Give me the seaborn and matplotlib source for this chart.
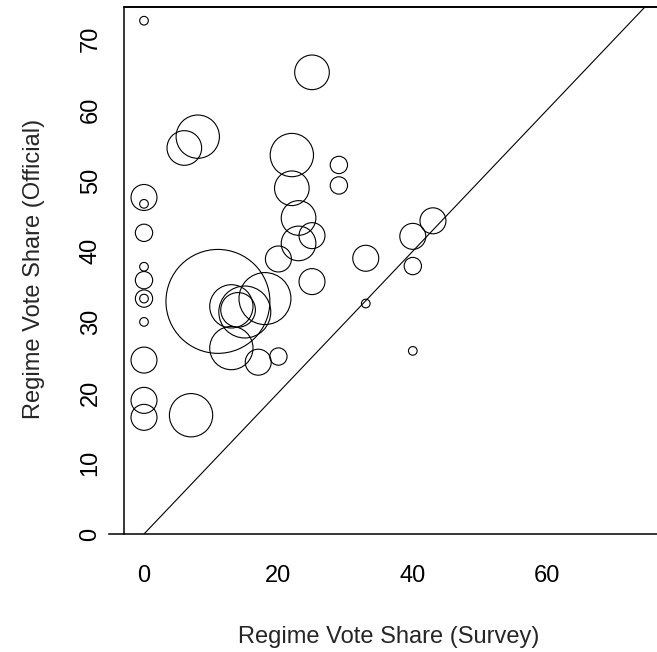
import numpy as np
import pandas as pd
import matplotlib
matplotlib.use("Agg")
import matplotlib.pyplot as plt
import seaborn as sns

# ---- data ----
survey = [0, 25, 8, 6, 22, 29, 29, 22, 0, 0, 0, 23, 25, 23, 20, 33, 0, 0, 0, 0,
          0, 11, 18, 13, 14, 15, 13, 17, 20, 0, 0, 0, 7, 33, 25, 40, 43, 40, 40]
official = [72.6, 65.3, 56.2, 54.6, 53.6, 52.2, 49.3, 48.9, 47.6, 46.7, 42.6, 44.7,
             42.2, 41.1, 38.9, 39.0, 37.8, 35.9, 33.3, 33.3, 30.0, 32.9, 33.3, 32.2,
             31.7, 31.4, 26.3, 24.3, 25.1, 24.6, 18.9, 16.5, 16.8, 32.6, 35.7, 42.1,
             44.3, 37.9, 25.9]
weight = [1, 4, 5, 4, 5, 2, 2, 4, 3, 1, 2, 4, 3, 4, 3, 3, 1, 2, 2, 1,
          1, 12, 6, 5, 4, 6, 5, 3, 2, 3, 3, 3, 5, 1, 3, 3, 3, 2, 1]
xticks = [0, 20, 40, 60]
yticks = [0, 10, 20, 30, 40, 50, 60, 70]
xlabel = "Regime Vote Share (Survey)"
ylabel = "Regime Vote Share (Official)"

df = pd.DataFrame({"survey": survey, "official": official, "weight": weight})

sns.set_style("white")
plt.rcParams["font.family"] = ["Liberation Sans", "DejaVu Sans"]

W, H, DPI = 657, 652, 100
FS = 17
fig = plt.figure(figsize=(W / DPI, H / DPI), dpi=DPI)
L, R, T, B = 109, 657, 7, 534
ax = fig.add_axes([L / W, 1 - B / H, (R - L) / W, (B - T) / H])

x0px, xscale = 144, 6.72
y0px, yscale = 534, 7.07
xlim = ((L - x0px) / xscale, (R - x0px) / xscale)
ylim = (0, (y0px - T) / yscale)
ax.set_xlim(*xlim)
ax.set_ylim(*ylim)

# circle sizes: radius ~4.33 px per weight unit
unit_pt = 2 * 4.33 * 72 / DPI
sizes = {k: (unit_pt * k) ** 2 for k in sorted(set(weight))}
sns.scatterplot(data=df, x="survey", y="official", size="weight", sizes=sizes,
                legend=False, ax=ax, marker="o", facecolor="none",
                edgecolor="black", linewidth=0.8, zorder=3)
for c in ax.collections:
    c.set_facecolor("none")
    c.set_edgecolor("black")

ax.axline((0, 0), slope=1, color="black", lw=0.8)

# frame lines like the reference
yaxis_x = -3.0
for s in ["top", "right"]:
    ax.spines[s].set_visible(False)
ax.spines["left"].set_position(("data", yaxis_x))
ax.spines["left"].set_linewidth(1.1)
ax.spines["bottom"].set_linewidth(1.1)
ax.spines["left"].set_color("black")
ax.spines["bottom"].set_color("black")
ax.axhline(ylim[1], xmin=(yaxis_x - xlim[0]) / (xlim[1] - xlim[0]), xmax=1,
           color="black", lw=1.4, clip_on=False)

ax.set_xticks(xticks)
ax.set_yticks(yticks)
ax.set_xticklabels([str(v) for v in xticks])
ax.set_yticklabels([str(v) for v in yticks], rotation=90, va="center")
ax.tick_params(axis="both", direction="out", length=10, width=0.9,
               color="black", labelsize=FS, labelcolor="black")
ax.tick_params(axis="x", pad=12.5)
ax.tick_params(axis="y", pad=6)
ax.set_xlabel("")
ax.set_ylabel("")
ax.grid(False)

fig.text(389 / W, 1 - 637 / H, xlabel, ha="center", va="center", fontsize=FS)
fig.text(34 / W, 1 - 269 / H, ylabel, ha="center", va="center", fontsize=FS,
         rotation=90)

fig.savefig("out.png", dpi=DPI)
